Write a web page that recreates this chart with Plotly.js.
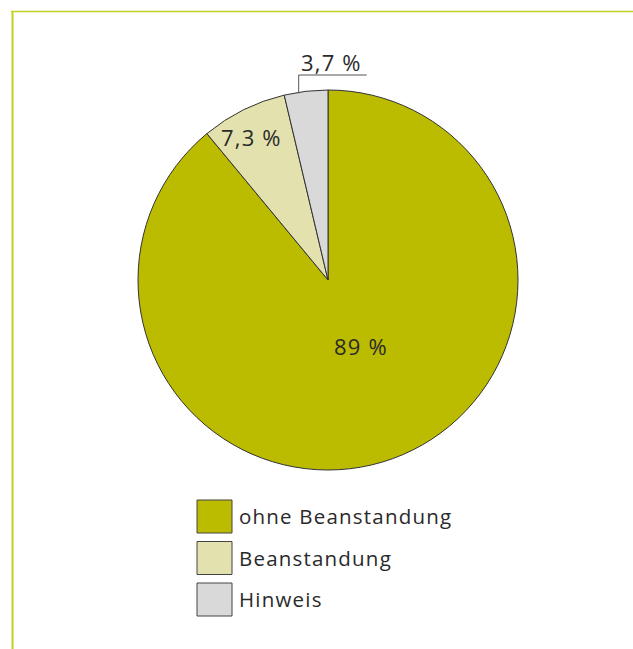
<!DOCTYPE html>
<html><head><meta charset="utf-8">
<script src="https://cdn.plot.ly/plotly-3.0.1.min.js"></script>
<style>html,body{margin:0;padding:0;background:#fff}
.annotation-text{letter-spacing:1.2px}</style>
</head><body><div id="chart" style="width:633px;height:649px"></div>
<script>
const labels = ["ohne Beanstandung", "Beanstandung", "Hinweis"];
const values = [89, 7.3, 3.7];
const valueText = ["89 %", "7,3 %", "3,7 %"];
const colors = ["#BBBB00", "#E3E2AF", "#D9D9D9"];

const W = 633, H = 649;
const cx = 328, cy = 280, R = 190;
const px = x => x / W, py = y => 1 - y / H;
const FONT = "'Open Sans', Roboto, 'Liberation Sans', Arial, sans-serif";

const total = values.reduce((a, b) => a + b, 0);
let acc = 0;
const angles = values.map(v => { const s = acc / total * 360; acc += v; return [s, acc / total * 360]; });
const pt = (deg, r) => [cx + Math.sin(deg * Math.PI / 180) * r, cy - Math.cos(deg * Math.PI / 180) * r];

const annotations = [], shapes = [];
const labelFont = {family: FONT, size: 22, color: "#2a2a2a"};
const radFrac = [0.385, 0.853];
const angShift = [-6.6, -1.9];
[0, 1].forEach(i => {
  const mid = (angles[i][0] + angles[i][1]) / 2 + angShift[i];
  const p = pt(mid, R * radFrac[i]);
  annotations.push({x: px(p[0]), y: py(p[1]), xref: "paper", yref: "paper", text: valueText[i], showarrow: false,
    font: labelFont, xanchor: "center", yanchor: "middle"});
});
{
  const i = 2;
  const a = angles[i][0] + 0.33 * (angles[i][1] - angles[i][0]);
  const p = pt(a, R - 1);
  const topY = cy - R - 15;
  shapes.push({type: "line", xref: "paper", yref: "paper", x0: px(p[0]), y0: py(p[1]), x1: px(p[0]), y1: py(topY), line: {color: "#555", width: 1}});
  shapes.push({type: "line", xref: "paper", yref: "paper", x0: px(p[0]), y0: py(topY), x1: px(p[0] + 68), y1: py(topY), line: {color: "#555", width: 1}});
  annotations.push({x: px(p[0] + 33), y: py(topY - 13), xref: "paper", yref: "paper", text: valueText[i], showarrow: false,
    font: labelFont, xanchor: "center", yanchor: "middle"});
}
// legend
labels.forEach((l, i) => {
  const y0 = 500 + i * 41.5;
  shapes.push({type: "rect", xref: "paper", yref: "paper", x0: px(197), x1: px(232), y0: py(y0), y1: py(y0 + 33),
    fillcolor: colors[i], line: {color: "#444", width: 1}});
  annotations.push({x: px(237), y: py(y0 + 16), xref: "paper", yref: "paper", text: l, showarrow: false,
    font: {family: FONT, size: 20.5, color: "#2a2a2a"}, xanchor: "left", yanchor: "middle"});
});
// frame lines
shapes.push({type: "line", xref: "paper", yref: "paper", x0: px(11), x1: 1, y0: py(11.5), y1: py(11.5), line: {color: "#C4CF22", width: 1.5}});
shapes.push({type: "line", xref: "paper", yref: "paper", x0: px(12.5), x1: px(12.5), y0: py(11), y1: 0, line: {color: "#C4CF22", width: 2}});

const trace = {
  type: "pie", labels: labels, values: values, sort: false, direction: "clockwise", rotation: 0,
  marker: {colors: colors, line: {color: "#333", width: 1}},
  textinfo: "none", hoverinfo: "label+percent", showlegend: false,
  domain: {x: [px(cx - R), px(cx + R)], y: [py(cy + R), py(cy - R)]}
};
Plotly.newPlot("chart", [trace], {
  width: W, height: H, margin: {l: 0, r: 0, t: 0, b: 0},
  paper_bgcolor: "#fff", showlegend: false, annotations: annotations, shapes: shapes
}, {displayModeBar: false, staticPlot: true});
</script></body></html>
